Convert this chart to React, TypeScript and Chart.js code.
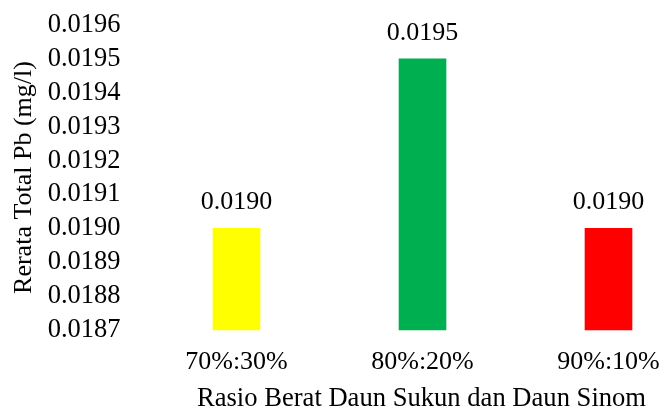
import React, { useEffect, useRef } from "react";
import { Chart, registerables } from "chart.js";

Chart.register(...registerables);

const categories = ["70%:30%", "80%:20%", "90%:10%"];
const values = [0.019, 0.0195, 0.019];
const barColors = ["#FFFF00", "#00B050", "#FF0000"];
const yMin = 0.0187;
const yMax = 0.0196;
const yStep = 0.0001;
const yTitle = "Rerata Total Pb (mg/l)";
const xTitle = "Rasio Berat Daun Sukun dan Daun Sinom";

const FONT = '"Liberation Serif", "Times New Roman", serif';

const valueLabels = {
  id: "valueLabels",
  afterDatasetsDraw(chart: any) {
    const ctx = chart.ctx;
    const meta = chart.getDatasetMeta(0);
    ctx.save();
    ctx.font = `26px ${FONT}`;
    ctx.fillStyle = "#000";
    ctx.textAlign = "center";
    ctx.textBaseline = "middle";
    meta.data.forEach((bar: any, i: number) => {
      ctx.fillText(values[i].toFixed(4), bar.x, bar.y - 26);
    });
    ctx.restore();
  },
};

const xAxisTitle = {
  id: "xAxisTitle",
  afterDraw(chart: any) {
    const ctx = chart.ctx;
    const area = chart.chartArea;
    ctx.save();
    ctx.font = `26.6px ${FONT}`;
    ctx.fillStyle = "#000";
    ctx.textAlign = "center";
    ctx.textBaseline = "middle";
    ctx.fillText(xTitle, (area.left + area.right) / 2 - 1, 399);
    ctx.restore();
  },
};

export default function App() {
  const ref = useRef<HTMLCanvasElement | null>(null);
  useEffect(() => {
    if (!ref.current) return;
    const chart = new Chart(ref.current, {
      type: "bar",
      data: {
        labels: categories,
        datasets: [
          {
            data: values,
            backgroundColor: barColors,
            borderWidth: 0,
            barThickness: 47,
            base: yMin,
            clip: false as any,
          } as any,
        ],
      },
      options: {
        animation: false,
        responsive: false,
        layout: { padding: { left: 0, right: 51.5, top: 25, bottom: 0 } },
        plugins: { legend: { display: false }, tooltip: { enabled: false } },
        scales: {
          x: {
            offset: false,
            grid: { display: false, drawTicks: false },
            border: { display: false },
            ticks: {
              color: "#000",
              font: { family: FONT, size: 26 },
              padding: 17,
              maxRotation: 0,
              autoSkip: false,
            },
            afterFit: (scale: any) => {
              scale.height = 82;
              scale.paddingLeft = 0;
              scale.paddingRight = 0;
            },
          },
          y: {
            min: yMin,
            max: yMax,
            grid: { display: false, drawTicks: false },
            border: { display: false },
            ticks: {
              stepSize: yStep,
              autoSkip: false,
              color: "#000",
              font: { family: FONT, size: 26.5 },
              padding: 116,
              callback: (v: any) => Number(v).toFixed(4),
            },
            title: {
              display: true,
              text: yTitle,
              color: "#000",
              font: { family: FONT, size: 26 },
              padding: { top: 9, bottom: 0 },
            },
            afterFit: (scale: any) => {
              scale.width = 236.5;
              scale.paddingTop = 0;
              scale.paddingBottom = 0;
            },
          },
        },
      },
      plugins: [valueLabels, xAxisTitle],
    });
    return () => chart.destroy();
  }, []);
  return (
    <div style={{ position: "fixed", left: 0, top: 0, width: 660, height: 412, background: "#fff" }}>
      <canvas ref={ref} width={660} height={412} style={{ width: 660, height: 412, display: "block" }} />
    </div>
  );
}
